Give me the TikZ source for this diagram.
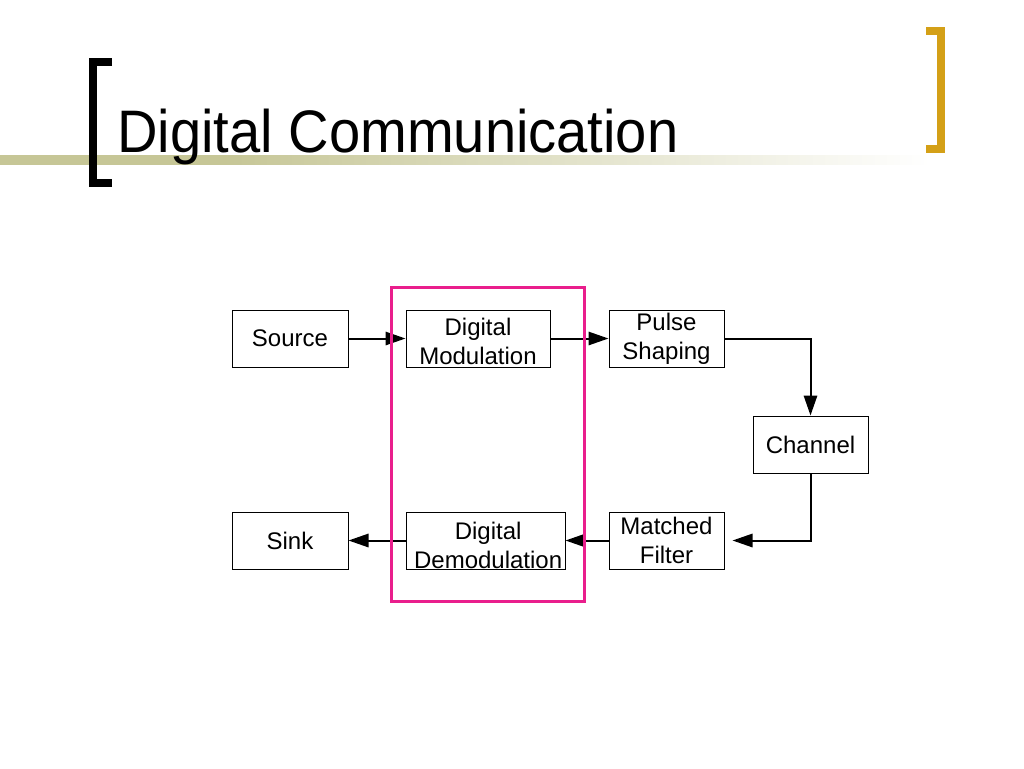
\documentclass[tikz,border=0pt]{standalone}
\usepackage{fontspec}
\setmainfont{Liberation Sans}
\usetikzlibrary{arrows.meta}
\definecolor{olivebar}{RGB}{198,198,150}
\definecolor{goldbr}{RGB}{212,160,23}
\definecolor{pinkbox}{RGB}{233,30,140}
\pgfdeclarehorizontalshading{barshade}{100bp}{color(0bp)=(olivebar); color(37bp)=(olivebar); color(75bp)=(white); color(100bp)=(white)}
\tikzset{
  box/.style={draw, line width=0.75pt, minimum height=42.75pt, inner sep=0pt,
    align=center, font=\fontsize{18}{21.75}\selectfont},
  labtxt/.style={inner sep=0pt, align=center, font=\fontsize{18}{21.75}\selectfont},
  arr/.style={line width=1.5pt, -{Triangle[length=15pt,width=10pt]}},
  brk/.style={line width=6.5pt, line cap=butt, line join=miter}
}
\begin{document}
\begin{tikzpicture}[x=0.75pt,y=-0.75pt]
\useasboundingbox (0,0) rectangle (1024,768);
% header decoration
\shade[shading=barshade] (0,155) rectangle (930,164);
\draw[brk, black] (112,62) -- (93,62) -- (93,183) -- (112,183);
\draw[brk, goldbr] (926,31) -- (941,31) -- (941,149) -- (926,149);
\node[anchor=base west, inner sep=0pt, font=\fontsize{45}{50}\selectfont] (title) at (117,152) {\scalebox{0.935}[1]{Digital Communication}};
% blocks
\node[box, minimum width=87pt] (src) at (290,338.5) {Source};
\node[box, minimum width=108pt, label={[labtxt, yshift=-2.25pt]center:{Digital\\Modulation}}] (dmod) at (478,338.5) {};
\node[box, minimum width=86.25pt] (pulse) at (666.5,338.5) {Pulse\\Shaping};
\node[box, minimum width=86.25pt] (chan) at (810.5,444.5) {Channel};
\node[box, minimum width=86.25pt] (mf) at (666.5,540.5) {Matched\\Filter};
\node[box, minimum width=119.25pt, label={[labtxt, yshift=-3.5pt, xshift=2pt]center:{Digital\\Demodulation}}] (ddem) at (485.5,540.5) {};
\node[box, minimum width=87pt] (sink) at (290,540.5) {Sink};
% connectors
\draw[arr] (src.east) -- (dmod.west);
\draw[arr] (dmod.east) -- (pulse.west);
\draw[arr] (pulse.east) -| (chan.north);
\draw[arr, shorten >=6pt] (chan.south) |- (mf.east);
\draw[arr] (mf.west) -- (ddem.east);
\draw[arr] (ddem.west) -- (sink.east);
% highlight
\draw[pinkbox, line width=2.25pt] (391,287) rectangle (584,601);
\end{tikzpicture}
\end{document}
